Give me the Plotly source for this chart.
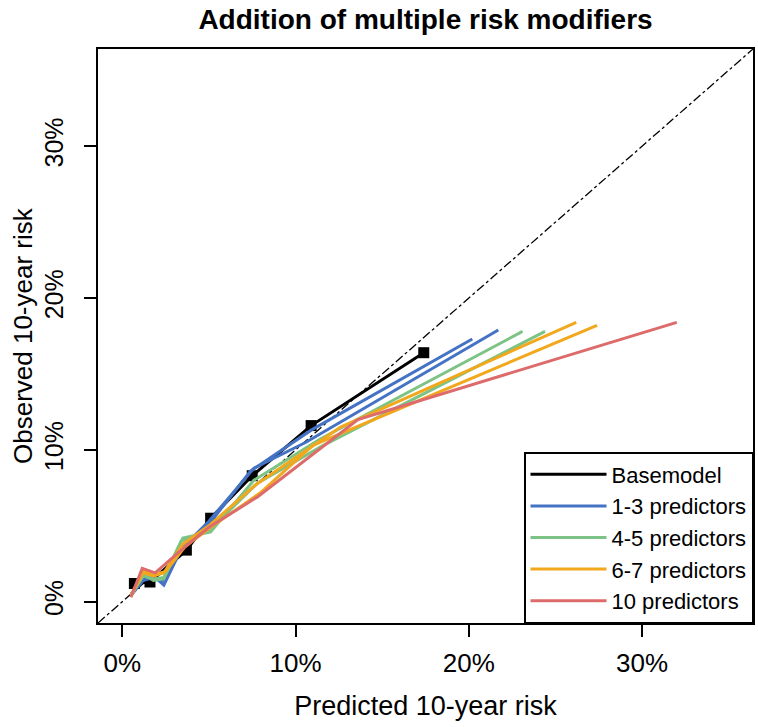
import plotly.graph_objects as go

# ---- data (percent) ----
base_x = [0.7, 1.6, 3.7, 5.1, 7.5, 10.9, 17.4]
base_y = [1.2, 1.3, 3.4, 5.5, 8.3, 11.6, 16.4]

blue1_x = [0.5, 1.2, 1.8, 2.4, 3.5, 5.0, 7.4, 10.9, 20.2]
blue1_y = [0.5, 1.5, 1.7, 1.1, 3.7, 5.1, 8.6, 11.3, 17.3]
blue2_x = [0.5, 1.2, 1.8, 2.3, 3.5, 5.0, 7.6, 10.6, 21.7]
blue2_y = [0.4, 1.4, 1.6, 1.3, 3.6, 5.3, 8.8, 10.5, 17.9]

green1_x = [0.5, 1.2, 1.8, 2.4, 3.5, 5.1, 7.6, 11.4, 23.1]
green1_y = [0.4, 1.8, 1.4, 1.5, 4.2, 4.6, 8.0, 10.7, 17.8]
green2_x = [0.5, 1.2, 1.8, 2.4, 3.4, 5.0, 7.8, 11.6, 24.4]
green2_y = [0.4, 1.7, 1.5, 1.6, 4.0, 4.7, 7.8, 10.3, 17.8]

orange1_x = [0.5, 1.2, 1.8, 2.4, 3.5, 5.0, 7.7, 12.6, 26.2]
orange1_y = [0.4, 1.9, 1.7, 1.9, 3.8, 5.0, 7.7, 11.5, 18.4]
orange2_x = [0.5, 1.2, 1.9, 2.5, 3.6, 5.1, 8.0, 11.0, 27.4]
orange2_y = [0.4, 2.0, 1.8, 2.0, 3.6, 4.9, 7.2, 10.3, 18.2]

red_x = [0.5, 1.15, 1.9, 2.6, 3.6, 5.0, 7.8, 13.6, 32.0]
red_y = [0.3, 2.2, 1.9, 2.6, 3.6, 4.9, 6.9, 12.0, 18.4]

axis_range = [-1.4, 36.4]
tick_vals = [0, 10, 20, 30]
tick_text = ["0%", "10%", "20%", "30%"]

BLACK = "#000000"
BLUE = "#4472C4"
GREEN = "#7DC385"
ORANGE = "#F2A81D"
RED = "#DE6B6B"

FONT = "Liberation Sans, Arial, sans-serif"

fig = go.Figure()

# identity reference line
fig.add_trace(go.Scatter(x=axis_range, y=axis_range, mode="lines",
                         line=dict(color="black", width=1.3, dash="dashdot"),
                         showlegend=False, hoverinfo="skip"))

fig.add_trace(go.Scatter(x=base_x, y=base_y, mode="lines", name="Basemodel",
                         line=dict(color=BLACK, width=3)))
fig.add_trace(go.Scatter(x=base_x, y=base_y, mode="markers", name="Basemodel",
                         showlegend=False,
                         marker=dict(symbol="square", size=11, color=BLACK)))

series = [
    (blue1_x, blue1_y, BLUE, "1-3 predictors", True),
    (blue2_x, blue2_y, BLUE, "1-3 predictors", False),
    (green1_x, green1_y, GREEN, "4-5 predictors", True),
    (green2_x, green2_y, GREEN, "4-5 predictors", False),
    (orange1_x, orange1_y, ORANGE, "6-7 predictors", True),
    (orange2_x, orange2_y, ORANGE, "6-7 predictors", False),
    (red_x, red_y, RED, "10 predictors", True),
]
for xs, ys, col, name, show in series:
    fig.add_trace(go.Scatter(x=xs, y=ys, mode="lines", name=name,
                             legendgroup=name, showlegend=show,
                             line=dict(color=col, width=3)))

fig.update_layout(
    width=758, height=727,
    margin=dict(l=98, r=5, t=49, b=104, autoexpand=False),
    paper_bgcolor="white", plot_bgcolor="white",
    font=dict(family=FONT, color="black", size=26),
    title=dict(text="<b>Addition of multiple risk modifiers</b>",
               x=425.5 / 758, xanchor="center",
               y=1 - 19 / 727, yanchor="middle",
               font=dict(size=28, family=FONT, color="black")),
    legend=dict(x=1, y=0, xanchor="right", yanchor="bottom",
                bordercolor="black", borderwidth=1.5, bgcolor="white",
                font=dict(size=22, family=FONT, color="black"),
                tracegroupgap=0, itemwidth=76),
    showlegend=True,
    annotations=[dict(text="Observed 10-year risk", textangle=-90,
                      xref="paper", yref="paper", x=-75 / 655, y=0.5,
                      xanchor="center", yanchor="middle", showarrow=False,
                      font=dict(size=26, family=FONT, color="black"))],
)

fig.update_xaxes(range=axis_range, tickvals=tick_vals, ticktext=tick_text,
                 showgrid=False, zeroline=False, automargin=False,
                 showline=True, linecolor="black", linewidth=1.5, mirror=True,
                 ticks="outside", ticklen=12, tickwidth=1.5, tickcolor="black",
                 ticklabelstandoff=4,
                 tickfont=dict(size=26),
                 title=dict(text="Predicted 10-year risk", font=dict(size=27), standoff=19))
fig.update_yaxes(range=axis_range, tickvals=tick_vals, ticktext=tick_text,
                 showgrid=False, zeroline=False, automargin=False,
                 showline=True, linecolor="black", linewidth=1.5, mirror=True,
                 ticks="outside", ticklen=12, tickwidth=1.5, tickcolor="black",
                 tickangle=-90, ticklabelstandoff=11,
                 tickfont=dict(size=25))

fig.write_html("out.html", config={"displayModeBar": False},
               post_script="document.body.style.margin='0px';")
